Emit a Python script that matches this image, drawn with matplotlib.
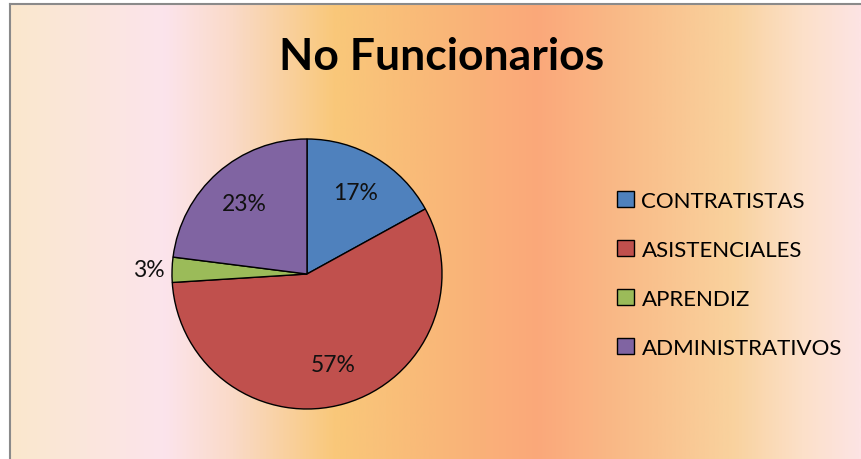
import numpy as np
import matplotlib.pyplot as plt
from matplotlib.colors import LinearSegmentedColormap
from matplotlib.patches import Patch

#==================== data
categories = ["CONTRATISTAS", "ASISTENCIALES", "APRENDIZ", "ADMINISTRATIVOS"]
values     = [17, 57, 3, 23]
colors     = ["#4F81BD", "#C0504D", "#9BBB59", "#8064A2"]
title_txt  = "No Funcionarios"

plt.rcParams['font.family'] = ['Lato', 'DejaVu Sans']

W, H = 862, 460
fig = plt.figure(figsize=(W/100, H/100), dpi=100)
fig.patch.set_facecolor("white")

#==================== background gradient
stops = [(0.00, (250, 232, 205)), (0.18, (252, 228, 236)), (0.26, (250, 218, 200)),
         (0.38, (249, 200, 122)), (0.50, (249, 184, 120)), (0.62, (251, 168, 122)),
         (0.75, (249, 192, 140)), (0.85, (249, 210, 158)), (0.93, (252, 224, 200)),
         (1.00, (253, 228, 228))]
cmap = LinearSegmentedColormap.from_list(
  "bg", [(p, tuple(c/255 for c in rgb)) for p, rgb in stops])
x0, y_top = 10, 5
bg = fig.add_axes([x0/W, 0, 1 - x0/W, 1 - y_top/H], zorder=0)
bg.imshow(np.linspace(0, 1, 512)[None, :], aspect='auto', cmap=cmap,
          extent=[0, 1, 0, 1])
bg.set_xticks([]); bg.set_yticks([])
for s in ["right", "bottom"]:
  bg.spines[s].set_visible(False)
for s in ["left", "top"]:
  bg.spines[s].set_color("#8a8a8a")
  bg.spines[s].set_linewidth(1.5)

#==================== pie
cx, cy, r = 307, 275, 135
ax = fig.add_axes([(cx - r)/W, (H - cy - r)/H, 2*r/W, 2*r/H], zorder=1)
wedges, texts, autotexts = ax.pie(
  values, colors=colors, startangle=90, counterclock=False,
  autopct='%1.0f%%', pctdistance=0.70,
  wedgeprops=dict(edgecolor="black", linewidth=1.0),
  textprops=dict(fontsize=16.5, color="#111111"))
ax.set_xlim(-1, 1); ax.set_ylim(-1, 1)
ax.set_aspect('equal')
ax.axis('off')

# small slice label sits outside the pie
w = wedges[2]
ang = np.deg2rad((w.theta1 + w.theta2)/2)
autotexts[2].set_position((1.17*np.cos(ang), 1.17*np.sin(ang)))

#==================== title
fig.text(442/W, 1 - 57/H, title_txt, ha='center', va='center',
         fontsize=32, fontweight='bold', color='black', zorder=2)

#==================== legend
handles = [Patch(facecolor=c, edgecolor="black", linewidth=1.0) for c in colors]
leg = fig.legend(handles, categories, loc='upper left',
                 bbox_to_anchor=(617/W, 1 - 192/H), frameon=False,
                 fontsize=16, handlelength=0.75, handleheight=0.75,
                 handletextpad=0.35, labelspacing=1.3, borderpad=0,
                 borderaxespad=0)
leg.set_zorder(3)

fig.savefig("out.png", dpi=100)
